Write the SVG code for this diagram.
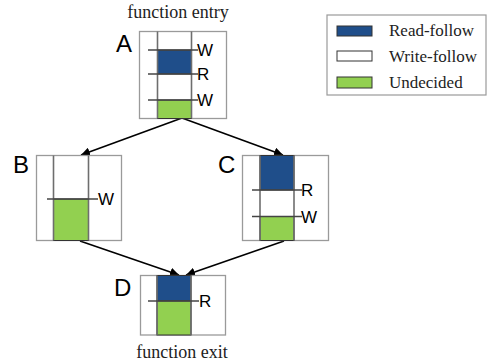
<svg xmlns="http://www.w3.org/2000/svg" width="489" height="364" viewBox="0 0 489 364">
<defs>
<marker id="ah" viewBox="0 0 10 10" refX="10" refY="5" markerWidth="9" markerHeight="9" markerUnits="userSpaceOnUse" orient="auto">
<path d="M0,0 L10,5 L0,10 z" fill="#000"/>
</marker>
<style>
.outer{fill:#fff;stroke:#9a9a9a;stroke-width:1.3}
.col{fill:none;stroke:#6e6e6e;stroke-width:1.6}
.tick{stroke:#444;stroke-width:1.3}
.blue{fill:#1f4e8a;stroke:#333;stroke-width:1}
.green{fill:#92d050;stroke:#333;stroke-width:1}
.big{font-family:"Liberation Sans",Arial,sans-serif;font-size:24px;fill:#000}
.lab{font-family:"Liberation Sans",Arial,sans-serif;font-size:17px;fill:#000}
.ser{font-family:"Liberation Serif","Times New Roman",serif;font-size:17px;fill:#222}
.cap{font-family:"Liberation Serif","Times New Roman",serif;font-size:18px;fill:#222}
.conn{stroke:#000;stroke-width:1.6;fill:none;marker-end:url(#ah)}
</style>
</defs>
<rect width="489" height="364" fill="#fff"/>

<g id="legend">
<rect x="327" y="15" width="159" height="80" fill="#fff" stroke="#9a9a9a" stroke-width="1.2"/>
<rect x="337" y="26" width="35" height="10" class="blue"/>
<rect x="337" y="51" width="35" height="10" fill="#fff" stroke="#333" stroke-width="1"/>
<rect x="337" y="77" width="35" height="11" class="green"/>
<text x="389" y="36" class="ser">Read-follow</text>
<text x="389" y="62" class="ser">Write-follow</text>
<text x="389" y="88" class="ser">Undecided</text>
</g>

<g id="connectors">
<line x1="182" y1="118" x2="81" y2="155" class="conn"/>
<line x1="182" y1="118" x2="283" y2="155" class="conn"/>
<line x1="80" y1="241" x2="179" y2="275" class="conn"/>
<line x1="284" y1="241" x2="186" y2="275" class="conn"/>
</g>

<g id="nodeA">
<text x="178" y="18" text-anchor="middle" class="cap">function entry</text>
<text x="116" y="52" class="big">A</text>
<rect x="139.5" y="31.5" width="87" height="87" class="outer"/>
<rect x="157.5" y="50" width="34" height="24" class="blue"/>
<rect x="157.5" y="100" width="34" height="18.5" class="green"/>
<line x1="157.5" y1="31.5" x2="157.5" y2="118.5" class="col"/>
<line x1="191.5" y1="31.5" x2="191.5" y2="118.5" class="col"/>
<line x1="148" y1="50" x2="198" y2="50" class="tick"/>
<line x1="148" y1="74" x2="198" y2="74" class="tick"/>
<line x1="148" y1="100" x2="198" y2="100" class="tick"/>
<text x="197" y="56" class="lab">W</text>
<text x="197" y="80" class="lab">R</text>
<text x="197" y="106" class="lab">W</text>
</g>

<g id="nodeB">
<text x="13" y="173" class="big">B</text>
<rect x="36.5" y="155.5" width="85" height="85" class="outer"/>
<rect x="53.5" y="199" width="35" height="41.5" class="green"/>
<line x1="53.5" y1="155.5" x2="53.5" y2="240.5" class="col"/>
<line x1="88.5" y1="155.5" x2="88.5" y2="240.5" class="col"/>
<line x1="47" y1="199" x2="98" y2="199" class="tick"/>
<text x="98" y="205" class="lab">W</text>
</g>

<g id="nodeC">
<text x="218" y="173" class="big">C</text>
<rect x="242.5" y="155.5" width="86" height="85" class="outer"/>
<rect x="260" y="155.5" width="34" height="34.5" class="blue"/>
<rect x="260" y="216.5" width="34" height="24" class="green"/>
<line x1="260" y1="155.5" x2="260" y2="240.5" class="col"/>
<line x1="294" y1="155.5" x2="294" y2="240.5" class="col"/>
<line x1="252" y1="190" x2="302" y2="190" class="tick"/>
<line x1="252" y1="216.5" x2="302" y2="216.5" class="tick"/>
<text x="301" y="196" class="lab">R</text>
<text x="301" y="222.5" class="lab">W</text>
</g>

<g id="nodeD">
<text x="114" y="296" class="big">D</text>
<rect x="140.5" y="275.5" width="85" height="59.5" class="outer"/>
<rect x="157" y="275.5" width="34" height="25.5" class="blue"/>
<rect x="157" y="301" width="34" height="34" class="green"/>
<line x1="157" y1="275.5" x2="157" y2="335" class="col"/>
<line x1="191" y1="275.5" x2="191" y2="335" class="col"/>
<line x1="148" y1="301" x2="199" y2="301" class="tick"/>
<text x="199" y="307" class="lab">R</text>
<text x="182" y="358" text-anchor="middle" class="cap">function exit</text>
</g>
</svg>
